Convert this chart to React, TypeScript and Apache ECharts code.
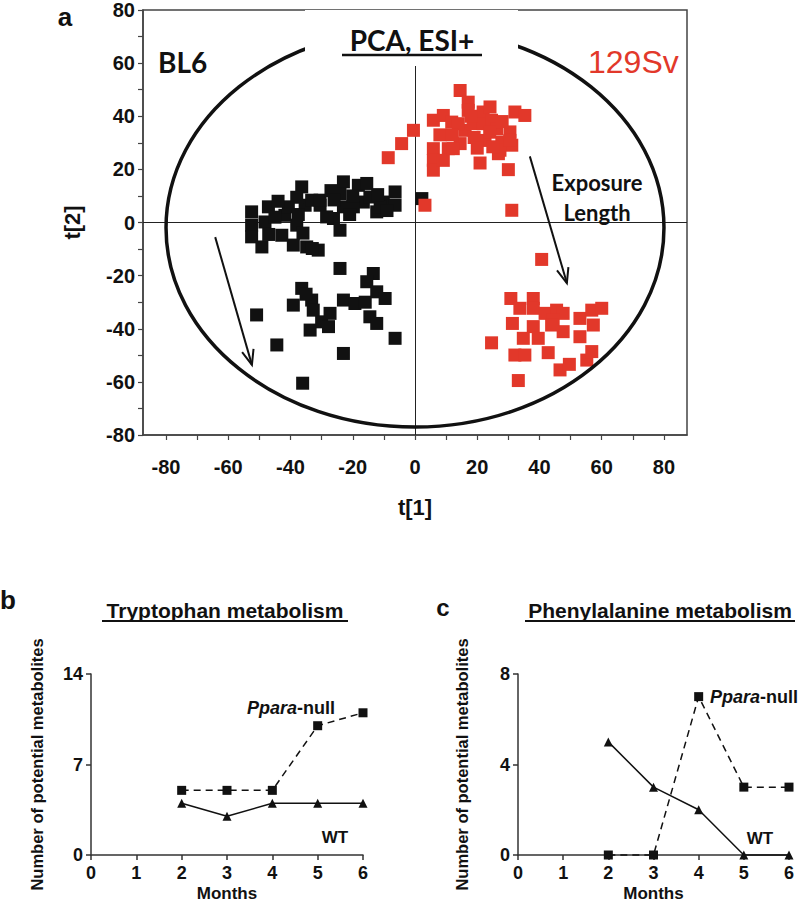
import React, { useEffect, useRef } from "react";
import * as echarts from "echarts";

// ---------- Panel a: PCA scores ----------
const bl6Points: [number, number][] = [
  [-52.5, 4.0], [-52.5, -1.0], [-52.5, -5.4], [-49.2, -9.2], [-47.1, 5.9], [-48.2, 0.2],
  [-42.8, -4.8], [-41.8, 2.7], [-40.7, 5.9], [-38.0, -1.0], [-39.1, -8.5], [-36.4, 13.4],
  [-35.3, 6.5], [-34.8, -9.2], [-31.1, -10.4], [-30.5, 6.5], [-33.2, 8.4], [-26.2, 1.5],
  [-24.1, -2.9], [-23.0, 15.3], [-24.1, 10.9], [-23.0, 5.9], [-18.2, 14.0], [-15.5, 14.7],
  [-16.6, 7.7], [-12.3, 4.0], [-10.2, 7.7], [-6.4, 11.5], [-6.4, 6.5], [2.2, 9.0],
  [-28.4, 2.1], [-30.5, 8.4], [-19.8, 5.9], [-14.5, 9.6], [-11.2, 5.9], [-37.5, 3.0],
  [-45.0, 2.0], [-20.0, 10.0], [-27.0, 12.0], [-33.0, -9.8], [-44.0, 8.0], [-38.0, 9.5],
  [-26.0, 8.5], [-12.0, 10.5], [-9.0, 4.5], [-47.0, -4.5], [-36.0, -4.0], [-21.0, 3.0],
  [-24.1, -17.3], [-13.4, -19.2], [-15.5, -22.3], [-12.3, -26.1], [-9.6, -28.6], [-36.4, -24.8],
  [-39.1, -31.1], [-33.2, -29.2], [-32.7, -33.0], [-33.7, -40.5], [-30.0, -37.4], [-27.3, -34.2],
  [-27.8, -39.2], [-23.0, -29.2], [-19.3, -30.5], [-14.5, -35.5], [-12.3, -38.0], [-50.9, -34.8],
  [-44.4, -46.1], [-23.0, -49.3], [-6.4, -43.6], [-36.1, -60.5], [-35.0, -27.0], [-16.0, -30.0],
];

const sv129Points: [number, number][] = [
  [-8.6, 24.4], [-4.3, 29.7], [-0.5, 34.7], [3.2, 6.5], [5.9, 38.5], [5.9, 27.8], [5.9, 23.4],
  [5.9, 19.7], [9.1, 40.3], [11.8, 37.8], [10.7, 27.8], [9.1, 23.4], [14.5, 49.7], [17.1, 45.3],
  [17.1, 42.2], [14.5, 29.7], [16.1, 34.7], [18.7, 37.2], [21.9, 41.6], [24.1, 43.5], [21.9, 37.2],
  [24.6, 38.5], [22.5, 30.9], [26.2, 35.3], [27.9, 30.3], [26.8, 25.9], [30.5, 34.1], [31.1, 29.1],
  [32.1, 41.6], [35.3, 40.3], [20.9, 22.4], [30.0, 19.9], [31.1, 4.6], [13.9, 37.2], [12.3, 27.8],
  [27.3, 27.2], [30.5, 30.9], [19.0, 32.0], [8.0, 33.0], [12.0, 33.0], [20.0, 28.0], [24.0, 34.0],
  [28.0, 38.0], [18.0, 40.0], [25.0, 28.5],
  [40.7, -13.9], [30.8, -28.6], [38.0, -28.6], [33.7, -32.3], [38.0, -32.3], [41.8, -34.2],
  [45.5, -33.0], [47.6, -34.2], [44.4, -36.7], [53.0, -36.1], [56.8, -33.0], [60.0, -32.3],
  [57.3, -38.6], [53.0, -43.0], [47.6, -41.1], [43.9, -38.6], [38.0, -39.2], [31.3, -38.0],
  [34.8, -43.6], [39.6, -43.6], [24.6, -45.3], [32.1, -49.9], [35.3, -49.9], [42.8, -49.0],
  [46.6, -55.5], [49.6, -53.4], [55.2, -51.8], [56.8, -48.6], [33.2, -59.5],
];

// Hotelling ellipse: centre x, centre y, semi-axis x, semi-axis y
const ellipseParams = [[0, -2, 80, 75]];
// Arrows: x1, y1, x2, y2 (data units)
const exposureArrows = [
  [-64.2, -5.5, -52.4, -53.6],
  [36.9, 24.9, 48.8, -22.8],
];

const pcaXTicks = [-80, -70, -60, -50, -40, -30, -20, -10, 0, 10, 20, 30, 40, 50, 60, 70, 80];
const pcaXLabels = [-80, -60, -40, -20, 0, 20, 40, 60, 80];
const pcaYTicks = [-80, -70, -60, -50, -40, -30, -20, -10, 0, 10, 20, 30, 40, 50, 60, 70, 80];
const pcaYLabels = [-80, -60, -40, -20, 0, 20, 40, 60, 80];

// ---------- Panels b & c ----------
const months = [2, 3, 4, 5, 6];
const tryptophanNull = [5, 5, 5, 10, 11];
const tryptophanWT = [4, 3, 4, 4, 4];
const phenylNull = [0, 0, 7, 3, 3];
const phenylWT = [5, 3, 2, 0, 0];

const ARIAL = "'Liberation Sans', Arial, Helvetica, sans-serif";
const CAL = "Lato, 'Open Sans', sans-serif";
const RED = "#e2382a";
const INK = "#111";

const zip = (xs: number[], ys: number[]) => xs.map((x, i) => [x, ys[i]]);

export default function App() {
  const ref = useRef<HTMLDivElement>(null);

  useEffect(() => {
    if (!ref.current) return;
    const chart = echarts.init(ref.current, undefined, { renderer: "svg" });

    const axisLineStyle = { color: "#333", width: 1.5 };
    const bottomX = (gi: number) => ({
      type: "value",
      gridIndex: gi,
      min: 0,
      max: 6,
      interval: 1,
      axisLine: { show: true, onZero: false, lineStyle: axisLineStyle },
      axisTick: { show: true, length: 5, lineStyle: axisLineStyle },
      axisLabel: { fontSize: 18, fontWeight: "bold", color: INK, fontFamily: ARIAL, margin: 9 },
      splitLine: { show: false },
      name: "Months",
      nameLocation: "middle",
      nameGap: 30,
      nameTextStyle: { fontSize: 17, fontWeight: "bold", color: INK, fontFamily: ARIAL },
    });
    const bottomY = (gi: number, max: number, interval: number, gap: number) => ({
      type: "value",
      gridIndex: gi,
      min: 0,
      max,
      interval,
      axisLine: { show: true, onZero: false, lineStyle: axisLineStyle },
      axisTick: { show: true, length: 5, lineStyle: axisLineStyle },
      axisLabel: { fontSize: 18, fontWeight: "bold", color: INK, fontFamily: ARIAL, margin: 8 },
      splitLine: { show: false },
      name: "Number of potential metabolites",
      nameLocation: "middle",
      nameGap: gap,
      nameTextStyle: { fontSize: 16.5, fontWeight: "bold", color: INK, fontFamily: ARIAL },
    });

    const lineSeries = (gi: number, ys: number[], dashed: boolean) => ({
      type: "line",
      xAxisIndex: gi,
      yAxisIndex: gi,
      data: zip(months, ys),
      symbol: dashed ? "rect" : "triangle",
      symbolSize: 9,
      clip: false,
      lineStyle: { color: INK, width: 1.5, type: dashed ? [7, 5] : "solid" },
      itemStyle: { color: INK, opacity: 1 },
      z: 3,
    });

    const pparaRich = {
      i: { fontStyle: "italic", fontSize: 18, fontFamily: ARIAL, fill: INK, fontWeight: "bold" },
      n: { fontSize: 18, fontFamily: ARIAL, fill: INK, fontWeight: "bold" },
    };

    const txt = (text: string, x: number, y: number, extra: any) => ({
      type: "text",
      x,
      y,
      z: 101,
      style: { text, fill: INK, align: "center", verticalAlign: "middle", ...extra },
    });
    const uline = (x1: number, x2: number, y: number, w: number) => ({
      type: "line",
      z: 101,
      shape: { x1, y1: y, x2, y2: y },
      style: { stroke: INK, lineWidth: w },
    });

    chart.setOption({
      animation: false,
      grid: [
        { left: 143, top: 7, width: 544, height: 428, show: true, borderColor: "#444", borderWidth: 1.5, backgroundColor: "transparent" },
        { left: 91, top: 674, width: 272, height: 182 },
        { left: 518, top: 674, width: 271, height: 182 },
      ],
      xAxis: [
        {
          type: "value",
          gridIndex: 0,
          min: -87.4,
          max: 87.4,
          axisLine: { show: true, onZero: false, lineStyle: { color: "#444", width: 1.5 } },
          axisTick: { show: true, length: 5, customValues: pcaXTicks, lineStyle: { color: "#444", width: 1.2 } },
          axisLabel: { customValues: pcaXLabels, fontSize: 20, fontWeight: "bold", color: INK, fontFamily: ARIAL, margin: 22 },
          splitLine: { show: false },
          name: "t[1]",
          nameLocation: "middle",
          nameGap: 61,
          nameTextStyle: { fontSize: 22, fontWeight: "bold", color: INK, fontFamily: ARIAL },
        },
        bottomX(1),
        bottomX(2),
      ],
      yAxis: [
        {
          type: "value",
          gridIndex: 0,
          min: -80,
          max: 80,
          axisLine: { show: true, onZero: false, lineStyle: { color: "#444", width: 1.5 } },
          axisTick: { show: true, length: 5, customValues: pcaYTicks, lineStyle: { color: "#444", width: 1.2 } },
          axisLabel: { customValues: pcaYLabels, fontSize: 20, fontWeight: "bold", color: INK, fontFamily: ARIAL, margin: 8 },
          splitLine: { show: false },
          name: "t[2]",
          nameLocation: "middle",
          nameGap: 60,
          nameTextStyle: { fontSize: 22, fontWeight: "bold", color: INK, fontFamily: ARIAL },
        },
        bottomY(1, 14, 7, 46),
        bottomY(2, 8, 4, 48),
      ],
      series: [
        {
          type: "scatter",
          name: "BL6",
          xAxisIndex: 0,
          yAxisIndex: 0,
          data: bl6Points,
          symbol: "rect",
          symbolSize: 13,
          itemStyle: { color: INK, opacity: 1 },
          z: 3,
          markLine: {
            silent: true,
            symbol: "none",
            label: { show: false },
            lineStyle: { color: "#222", width: 1, type: "solid" },
            data: [{ xAxis: 0 }, { yAxis: 0 }],
            z: 1,
          },
        },
        {
          type: "scatter",
          name: "129Sv",
          xAxisIndex: 0,
          yAxisIndex: 0,
          data: sv129Points,
          symbol: "rect",
          symbolSize: 13,
          itemStyle: { color: RED, opacity: 1 },
          z: 3,
        },
        {
          type: "custom",
          xAxisIndex: 0,
          yAxisIndex: 0,
          data: ellipseParams,
          z: 4,
          silent: true,
          renderItem: (_p: any, api: any) => {
            const c = api.coord([api.value(0), api.value(1)]);
            const s = api.size([api.value(2), api.value(3)]);
            return {
              type: "ellipse",
              shape: { cx: c[0], cy: c[1], rx: s[0], ry: s[1] },
              style: { fill: "none", stroke: INK, lineWidth: 3.5 },
            };
          },
        },
        {
          type: "custom",
          xAxisIndex: 0,
          yAxisIndex: 0,
          data: exposureArrows,
          z: 4,
          silent: true,
          renderItem: (_p: any, api: any) => {
            const a = api.coord([api.value(0), api.value(1)]);
            const b = api.coord([api.value(2), api.value(3)]);
            const ang = Math.atan2(b[1] - a[1], b[0] - a[0]);
            const L = 16;
            const spread = 0.38;
            const h1 = [b[0] - L * Math.cos(ang - spread), b[1] - L * Math.sin(ang - spread)];
            const h2 = [b[0] - L * Math.cos(ang + spread), b[1] - L * Math.sin(ang + spread)];
            const st = { stroke: INK, lineWidth: 2 };
            return {
              type: "group",
              children: [
                { type: "line", shape: { x1: a[0], y1: a[1], x2: b[0], y2: b[1] }, style: st },
                { type: "polyline", shape: { points: [h1, b, h2] }, style: { ...st, fill: "none" } },
              ],
            };
          },
        },
        lineSeries(1, tryptophanNull, true),
        lineSeries(1, tryptophanWT, false),
        lineSeries(2, phenylNull, true),
        lineSeries(2, phenylWT, false),
      ],
      graphic: [
        { type: "rect", z: 100, shape: { x: 305, y: 10, width: 213, height: 56 }, style: { fill: "#fff" } },
        txt("PCA, ESI+", 412, 40, { fontSize: 28, fontWeight: "bold", fontFamily: CAL }),
        uline(342, 482, 55, 2.5),
        txt("BL6", 158, 62, { align: "left", fontSize: 28, fontWeight: "bold", fontFamily: CAL }),
        txt("129Sv", 588, 62, { align: "left", fontSize: 32, fontFamily: ARIAL, fill: RED }),
        txt("Exposure", 597, 182, { fontSize: 22, fontWeight: "bold", fontFamily: CAL }),
        txt("Length", 597, 212, { fontSize: 22, fontWeight: "bold", fontFamily: CAL }),
        txt("a", 65, 17, { fontSize: 26, fontWeight: "bold", fontFamily: ARIAL }),
        txt("b", 8, 600, { fontSize: 26, fontWeight: "bold", fontFamily: ARIAL }),
        txt("c", 443, 607, { fontSize: 24, fontWeight: "bold", fontFamily: ARIAL }),
        txt("Tryptophan metabolism", 225, 610, { fontSize: 21, fontWeight: "bold", fontFamily: ARIAL }),
        uline(102, 348, 621, 2),
        txt("Phenylalanine metabolism", 660, 610, { fontSize: 21, fontWeight: "bold", fontFamily: ARIAL }),
        uline(525, 795, 621, 2),
        {
          type: "text",
          x: 247,
          y: 708,
          z: 101,
          style: { text: "{i|Ppara}{n|-null}", rich: pparaRich, align: "left", verticalAlign: "middle" },
        },
        txt("WT", 335, 837, { fontSize: 17, fontWeight: "bold", fontFamily: ARIAL }),
        {
          type: "text",
          x: 710,
          y: 697,
          z: 101,
          style: { text: "{i|Ppara}{n|-null}", rich: pparaRich, align: "left", verticalAlign: "middle" },
        },
        txt("WT", 760, 838, { fontSize: 17, fontWeight: "bold", fontFamily: ARIAL }),
      ],
    });

    return () => chart.dispose();
  }, []);

  return (
    <div
      ref={ref}
      style={{ position: "absolute", left: 0, top: 0, width: 800, height: 903, background: "#fff" }}
    />
  );
}
